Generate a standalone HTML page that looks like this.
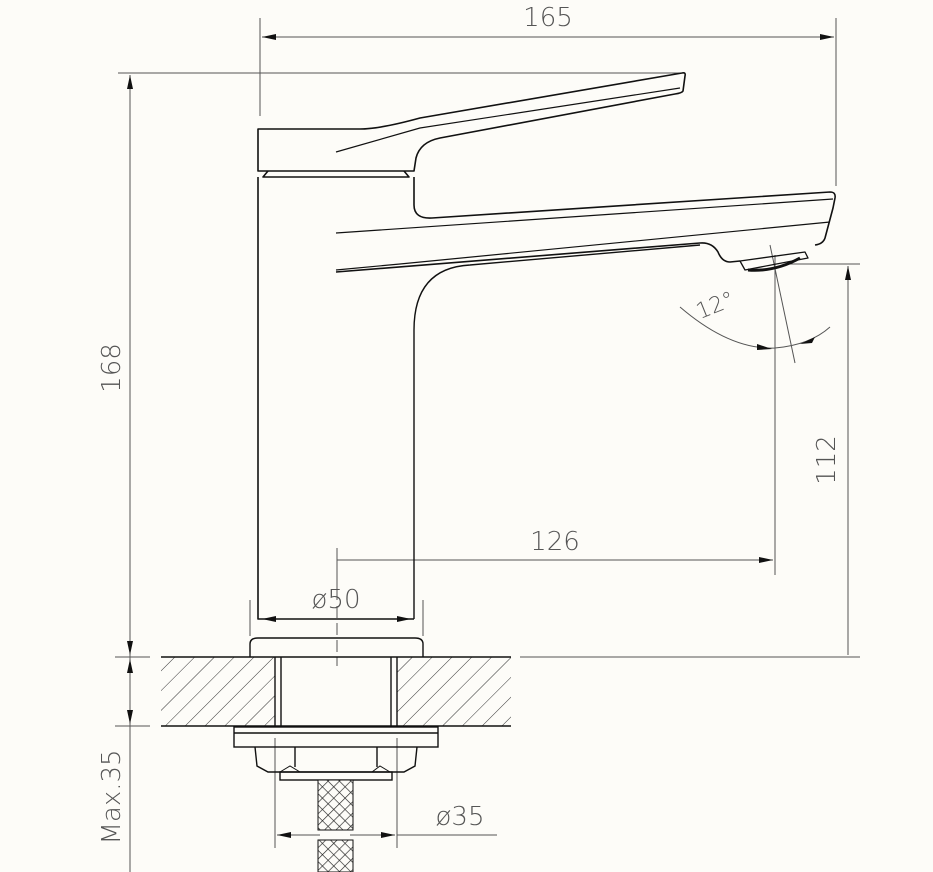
<!DOCTYPE html>
<html><head><style>
html,body{margin:0;padding:0;background:#fdfcf8;}
svg{display:block;}
text{font-family:"DejaVu Sans","Liberation Sans",sans-serif;fill:#555;font-weight:200;}
</style></head><body>
<svg width="933" height="872" viewBox="0 0 933 872" xmlns="http://www.w3.org/2000/svg">
<defs>
<pattern id="hatch" patternUnits="userSpaceOnUse" width="14" height="14" patternTransform="rotate(45)">
<line x1="0" y1="0" x2="0" y2="14" stroke="#333" stroke-width="1"/>
</pattern>
<pattern id="mesh" patternUnits="userSpaceOnUse" width="8" height="8" patternTransform="rotate(45)">
<rect width="8" height="8" fill="#fdfcf8"/>
<line x1="0" y1="0" x2="0" y2="8" stroke="#222" stroke-width="1.3"/>
<line x1="0" y1="0" x2="8" y2="0" stroke="#222" stroke-width="1.3"/>
</pattern>
<marker id="ar" markerWidth="14" markerHeight="6" refX="14" refY="3" orient="auto-start-reverse" markerUnits="userSpaceOnUse"><path d="M0,0 L14,3 L0,6z" fill="#111"/></marker>
</defs>
<g stroke="#555" stroke-width="1" fill="none">
<line x1="260" y1="18" x2="260" y2="116"/>
<line x1="836" y1="18" x2="836" y2="186"/>
<line x1="262" y1="37" x2="834" y2="37" marker-end="url(#ar)" marker-start="url(#ar)"/>
<line x1="118" y1="73" x2="685" y2="73"/>
<line x1="130" y1="75" x2="130" y2="872"/>
<line x1="130" y1="120" x2="130" y2="75" marker-end="url(#ar)"/>
<line x1="130" y1="600" x2="130" y2="655" marker-end="url(#ar)"/>
<line x1="115" y1="657" x2="150" y2="657"/>
<line x1="115" y1="726" x2="150" y2="726"/>
<line x1="130" y1="690" x2="130" y2="659" marker-end="url(#ar)"/>
<line x1="130" y1="680" x2="130" y2="724" marker-end="url(#ar)"/>
<line x1="790" y1="264" x2="860" y2="264"/>
<line x1="520" y1="657" x2="860" y2="657"/>
<line x1="848" y1="655" x2="848" y2="266" marker-end="url(#ar)"/>
<line x1="775" y1="255" x2="775" y2="575"/>
<line x1="337" y1="560" x2="773" y2="560" marker-end="url(#ar)"/>
<line x1="337" y1="548" x2="337" y2="600"/>
<line x1="337" y1="606" x2="337" y2="666" stroke-dasharray="12,5"/>
<line x1="770" y1="245" x2="795" y2="363"/>
<path d="M680,307 Q730,350 775,348 Q810,345 830,327"/>
<line x1="250" y1="600" x2="250" y2="636"/>
<line x1="423" y1="600" x2="423" y2="636"/>
<line x1="320" y1="619" x2="262" y2="619" marker-end="url(#ar)"/>
<line x1="360" y1="619" x2="411" y2="619" marker-end="url(#ar)"/>
<line x1="275" y1="738" x2="275" y2="848"/>
<line x1="397" y1="738" x2="397" y2="848"/>
<line x1="320" y1="835" x2="277" y2="835" marker-end="url(#ar)"/>
<line x1="350" y1="835" x2="395" y2="835" marker-end="url(#ar)"/>
<line x1="397" y1="835" x2="497" y2="835"/>
</g>
<path d="M757,344 L772,349 L757,350z" fill="#111"/>
<path d="M800,344 L815,337 L812,343z" fill="#111"/>
<g stroke="#111" stroke-width="1.6" fill="none" stroke-linejoin="round">
<path d="M258,129 L360,129 Q380,129 420,118 L682,73 Q686,72 685,76 L683,91 Q682,93 675,94 L440,138 Q420,142 416,158 L414,171 L258,171 Z"/>
<path d="M336,152 L420,128 L680,88" stroke-width="1.2"/>
<path d="M268,171 L263,177 L409,177 L404,171"/>
<path d="M258,177 L258,619 L414,619"/>
<path d="M414,177 L414,205 Q414,219 432,218 L830,192 Q836,192 835,198 L833,208 L825,238 Q823,244 815,245"/>
<path d="M336,233 L380,230 L833,199" stroke-width="1.2"/>
<path d="M336,270 L400,264 L830,222" stroke-width="1.2"/>
<path d="M336,272 L700,243 Q712,242 718,252 Q722,262 730,262 L740,261"/>
<path d="M740,261 L805,252 L808,258 L745,270 Z" stroke-width="1.3"/>
<path d="M748,270 Q775,272 800,258" stroke-width="3"/>
<path d="M414,619 L414,330 Q414,268 470,265 L700,245" stroke-width="1.4"/>
</g>
<rect x="161" y="657" width="114" height="69" fill="url(#hatch)"/>
<rect x="397" y="657" width="114" height="69" fill="url(#hatch)"/>
<g stroke="#111" stroke-width="1.4" fill="none">
<line x1="161" y1="657" x2="511" y2="657"/>
<line x1="161" y1="726" x2="511" y2="726"/>
<line x1="275" y1="657" x2="275" y2="726"/>
<line x1="281" y1="657" x2="281" y2="726"/>
<line x1="391" y1="657" x2="391" y2="726"/>
<line x1="397" y1="657" x2="397" y2="726"/>
<path d="M250,657 L250,644 Q250,638 258,638 L415,638 Q423,638 423,644 L423,657"/>
<rect x="234" y="727" width="204" height="20"/>
<line x1="234" y1="733" x2="438" y2="733"/>
<path d="M255,747 L257,766 L268,772 L404,772 L415,766 L417,747"/>
<line x1="295" y1="747" x2="295" y2="767"/>
<line x1="377" y1="747" x2="377" y2="767"/>
<path d="M280,772 L290,766 L300,772 M372,772 L380,766 L390,772" stroke-width="1"/>
<rect x="280" y="772" width="112" height="8"/>
</g>
<rect x="318" y="780" width="35" height="50" fill="url(#mesh)" stroke="#111"/>
<rect x="318" y="840" width="35" height="32" fill="url(#mesh)" stroke="#111"/>
<text x="548" y="26" font-size="26" text-anchor="middle">165</text>
<text x="555" y="550" font-size="26" text-anchor="middle">126</text>
<text x="336" y="608" font-size="26" text-anchor="middle">ø50</text>
<text x="460" y="825" font-size="26" text-anchor="middle">ø35</text>
<text transform="translate(120,368) rotate(-90)" font-size="26" text-anchor="middle">168</text>
<text transform="translate(835,460) rotate(-90)" font-size="26" text-anchor="middle">112</text>
<text transform="translate(120,797) rotate(-90)" font-size="26" text-anchor="middle">Max.35</text>
<text transform="translate(718,312) rotate(-22)" font-size="22" text-anchor="middle">12°</text>
</svg>
</body></html>
